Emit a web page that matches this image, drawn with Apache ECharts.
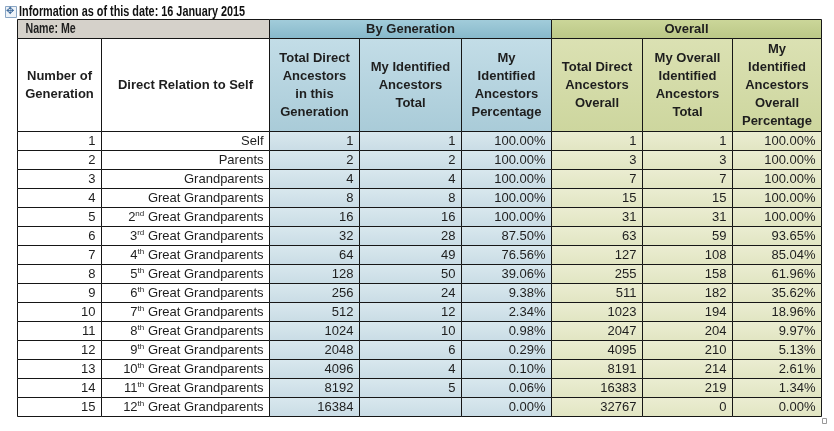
<!DOCTYPE html>
<html lang="en">
<head>
<meta charset="UTF-8">
<title>Direct ancestors table</title>
<script src="https://cdn.jsdelivr.net/npm/echarts@6/dist/echarts.min.js"></script>
<style>html,body{margin:0;background:#fff;}</style>
</head>
<body>
<div id="main" style="width:834px;height:431px;"></div>
<script>
// table data
var titleText = 'Information as of this date: 16 January 2015';
var nameLabel = 'Name: Me';
var groupLabels = ['By Generation', 'Overall'];
var columnHeaders = [
    'Number of\nGeneration',
    'Direct Relation to Self',
    'Total Direct\nAncestors\nin this\nGeneration',
    'My Identified\nAncestors\nTotal',
    'My\nIdentified\nAncestors\nPercentage',
    'Total Direct\nAncestors\nOverall',
    'My Overall\nIdentified\nAncestors\nTotal',
    'My\nIdentified\nAncestors\nOverall\nPercentage'
];
var generations = [1, 2, 3, 4, 5, 6, 7, 8, 9, 10, 11, 12, 13, 14, 15];
var relations = ['Self', 'Parents', 'Grandparents', 'Great Grandparents',
    '2nd Great Grandparents', '3rd Great Grandparents', '4th Great Grandparents',
    '5th Great Grandparents', '6th Great Grandparents', '7th Great Grandparents',
    '8th Great Grandparents', '9th Great Grandparents', '10th Great Grandparents',
    '11th Great Grandparents', '12th Great Grandparents'];
var totalDirect = [1, 2, 4, 8, 16, 32, 64, 128, 256, 512, 1024, 2048, 4096, 8192, 16384];
var identifiedTotal = [1, 2, 4, 8, 16, 28, 49, 50, 24, 12, 10, 6, 4, 5, null];
var identifiedPct = [100, 100, 100, 100, 100, 87.5, 76.56, 39.06, 9.38, 2.34, 0.98, 0.29, 0.10, 0.06, 0];
var totalOverall = [1, 3, 7, 15, 31, 63, 127, 255, 511, 1023, 2047, 4095, 8191, 16383, 32767];
var overallIdentified = [1, 3, 7, 15, 31, 59, 108, 158, 182, 194, 204, 210, 214, 219, 0];
var overallPct = [100, 100, 100, 100, 100, 93.65, 85.04, 61.96, 35.62, 18.96, 9.97, 5.13, 2.61, 1.34, 0];

// layout
var colWidths = [84, 168, 90, 102, 90, 91, 90, 89];
var headRow1 = 19, headRow2 = 93, dataRow = 19;

var colEdges = [0];
colWidths.forEach(function (w, i) { colEdges.push(colEdges[i] + w); });
var tableW = colEdges[colEdges.length - 1];
var tableH = headRow1 + headRow2 + dataRow * generations.length;

function vgrad(a, b) {
    return { type: 'linear', x: 0, y: 0, x2: 0, y2: 1, colorStops: [{ offset: 0, color: a }, { offset: 1, color: b }] };
}

var BASE = '"Liberation Sans", Arial, sans-serif';
// no narrow face installed, so the regular one is squeezed sideways
var kinds = {
    name:      { fill: '#d5d1ca', font: 'bold 14px ' + BASE, align: 'left', sx: 0.76 },
    byGen:     { fill: vgrad('#a3cddb', '#86b8ca'), font: 'bold 13px ' + BASE, align: 'center' },
    overall:   { fill: vgrad('#ccd79a', '#bac786'), font: 'bold 13px ' + BASE, align: 'center' },
    head:      { fill: '#ffffff', font: 'bold 13px ' + BASE, align: 'center', lh: 18 },
    headBlue:  { fill: vgrad('#c3dde7', '#a9cbd8'), font: 'bold 13px ' + BASE, align: 'center', lh: 18 },
    headGreen: { fill: vgrad('#dbe1b3', '#cdd69e'), font: 'bold 13px ' + BASE, align: 'center', lh: 18 },
    plain:     { fill: '#ffffff', font: '13px ' + BASE, align: 'right' },
    blue:      { fill: vgrad('#d9e8ee', '#c9dce5'), font: '13px ' + BASE, align: 'right' },
    green:     { fill: vgrad('#ebedd2', '#e1e5c2'), font: '13px ' + BASE, align: 'right' }
};

var cells = [];
function addCell(c0, c1, y0, y1, text, kind) {
    cells.push({ value: [colEdges[c0], colEdges[c1], y0, y1], text: text, kind: kind });
}
function relText(s) {
    var m = s.match(/^(\d+)(st|nd|rd|th) (.*)$/);
    if (!m) return s;
    return m[1] + '{sup|' + m[2] + '}' + ' ' + m[3];
}
function pct(v) { return v.toFixed(2) + '%'; }

addCell(0, 2, 0, headRow1, nameLabel, 'name');
addCell(2, 5, 0, headRow1, groupLabels[0], 'byGen');
addCell(5, 8, 0, headRow1, groupLabels[1], 'overall');
columnHeaders.forEach(function (h, i) {
    addCell(i, i + 1, headRow1, headRow1 + headRow2, h, i < 2 ? 'head' : (i < 5 ? 'headBlue' : 'headGreen'));
});
generations.forEach(function (g, r) {
    var y0 = headRow1 + headRow2 + r * dataRow, y1 = y0 + dataRow;
    var row = [
        String(g),
        relText(relations[r]),
        String(totalDirect[r]),
        identifiedTotal[r] == null ? '' : String(identifiedTotal[r]),
        pct(identifiedPct[r]),
        String(totalOverall[r]),
        String(overallIdentified[r]),
        pct(overallPct[r])
    ];
    row.forEach(function (t, i) {
        addCell(i, i + 1, y0, y1, t, i < 2 ? 'plain' : (i < 5 ? 'blue' : 'green'));
    });
});

function renderItem(params, api) {
    var c = cells[params.dataIndex];
    var p0 = api.coord([c.value[0], c.value[2]]);
    var p1 = api.coord([c.value[1], c.value[3]]);
    var x = Math.round(p0[0]) + 0.5, y = Math.round(p0[1]) + 0.5;
    var w = Math.round(p1[0]) - Math.round(p0[0]);
    var h = Math.round(p1[1]) - Math.round(p0[1]);
    var s = kinds[c.kind];
    var tx = s.align === 'left' ? x + 8 : (s.align === 'right' ? x + w - 6 : x + w / 2);
    return {
        type: 'group',
        children: [{
            type: 'rect',
            shape: { x: x, y: y, width: w, height: h },
            style: { fill: s.fill, stroke: '#161616', lineWidth: 1 }
        }, {
            type: 'text',
            x: tx,
            y: y + h / 2 + 0.5,
            scaleX: s.sx || 1,
            scaleY: 1,
            style: {
                text: c.text,
                x: 0,
                y: 0,
                align: s.align,
                verticalAlign: 'middle',
                font: s.font,
                fill: '#1e1e1e',
                lineHeight: s.lh || 15,
                rich: {
                    sup: { fontSize: 8, fontFamily: BASE, verticalAlign: 'top', lineHeight: 15, fill: '#1e1e1e', padding: [0, 0, 4, 0] }
                }
            }
        }]
    };
}

var myChart = echarts.init(document.getElementById('main'));
myChart.setOption({
    animation: false,
    grid: { left: 17, top: 19, width: tableW, height: tableH },
    xAxis: { type: 'value', min: 0, max: tableW, show: false },
    yAxis: { type: 'value', min: 0, max: tableH, inverse: true, show: false },
    series: [{
        type: 'custom',
        renderItem: renderItem,
        clip: false,
        silent: true,
        dimensions: ['x0', 'x1', 'y0', 'y1'],
        encode: { x: [0, 1], y: [2, 3] },
        data: cells.map(function (c) { return c.value; })
    }],
    graphic: [{
        type: 'text', x: 19, y: 12.5, scaleX: 0.775, scaleY: 1,
        style: { text: titleText, x: 0, y: 0, verticalAlign: 'middle', font: 'bold 14px ' + BASE, fill: '#111' }
    }, {
        type: 'rect', left: 5, top: 6,
        shape: { width: 11, height: 11 },
        style: { fill: '#eef3f8', stroke: '#8aa6c4', lineWidth: 1 }
    }, {
        type: 'text', left: 6, top: 6,
        style: { text: '\u2725', font: '10px "DejaVu Sans"', fill: '#3d6a9c' }
    }, {
        type: 'rect', left: 822, top: 418,
        shape: { width: 4, height: 5 },
        style: { fill: '#fff', stroke: '#999', lineWidth: 1 }
    }]
});
</script>
</body>
</html>
